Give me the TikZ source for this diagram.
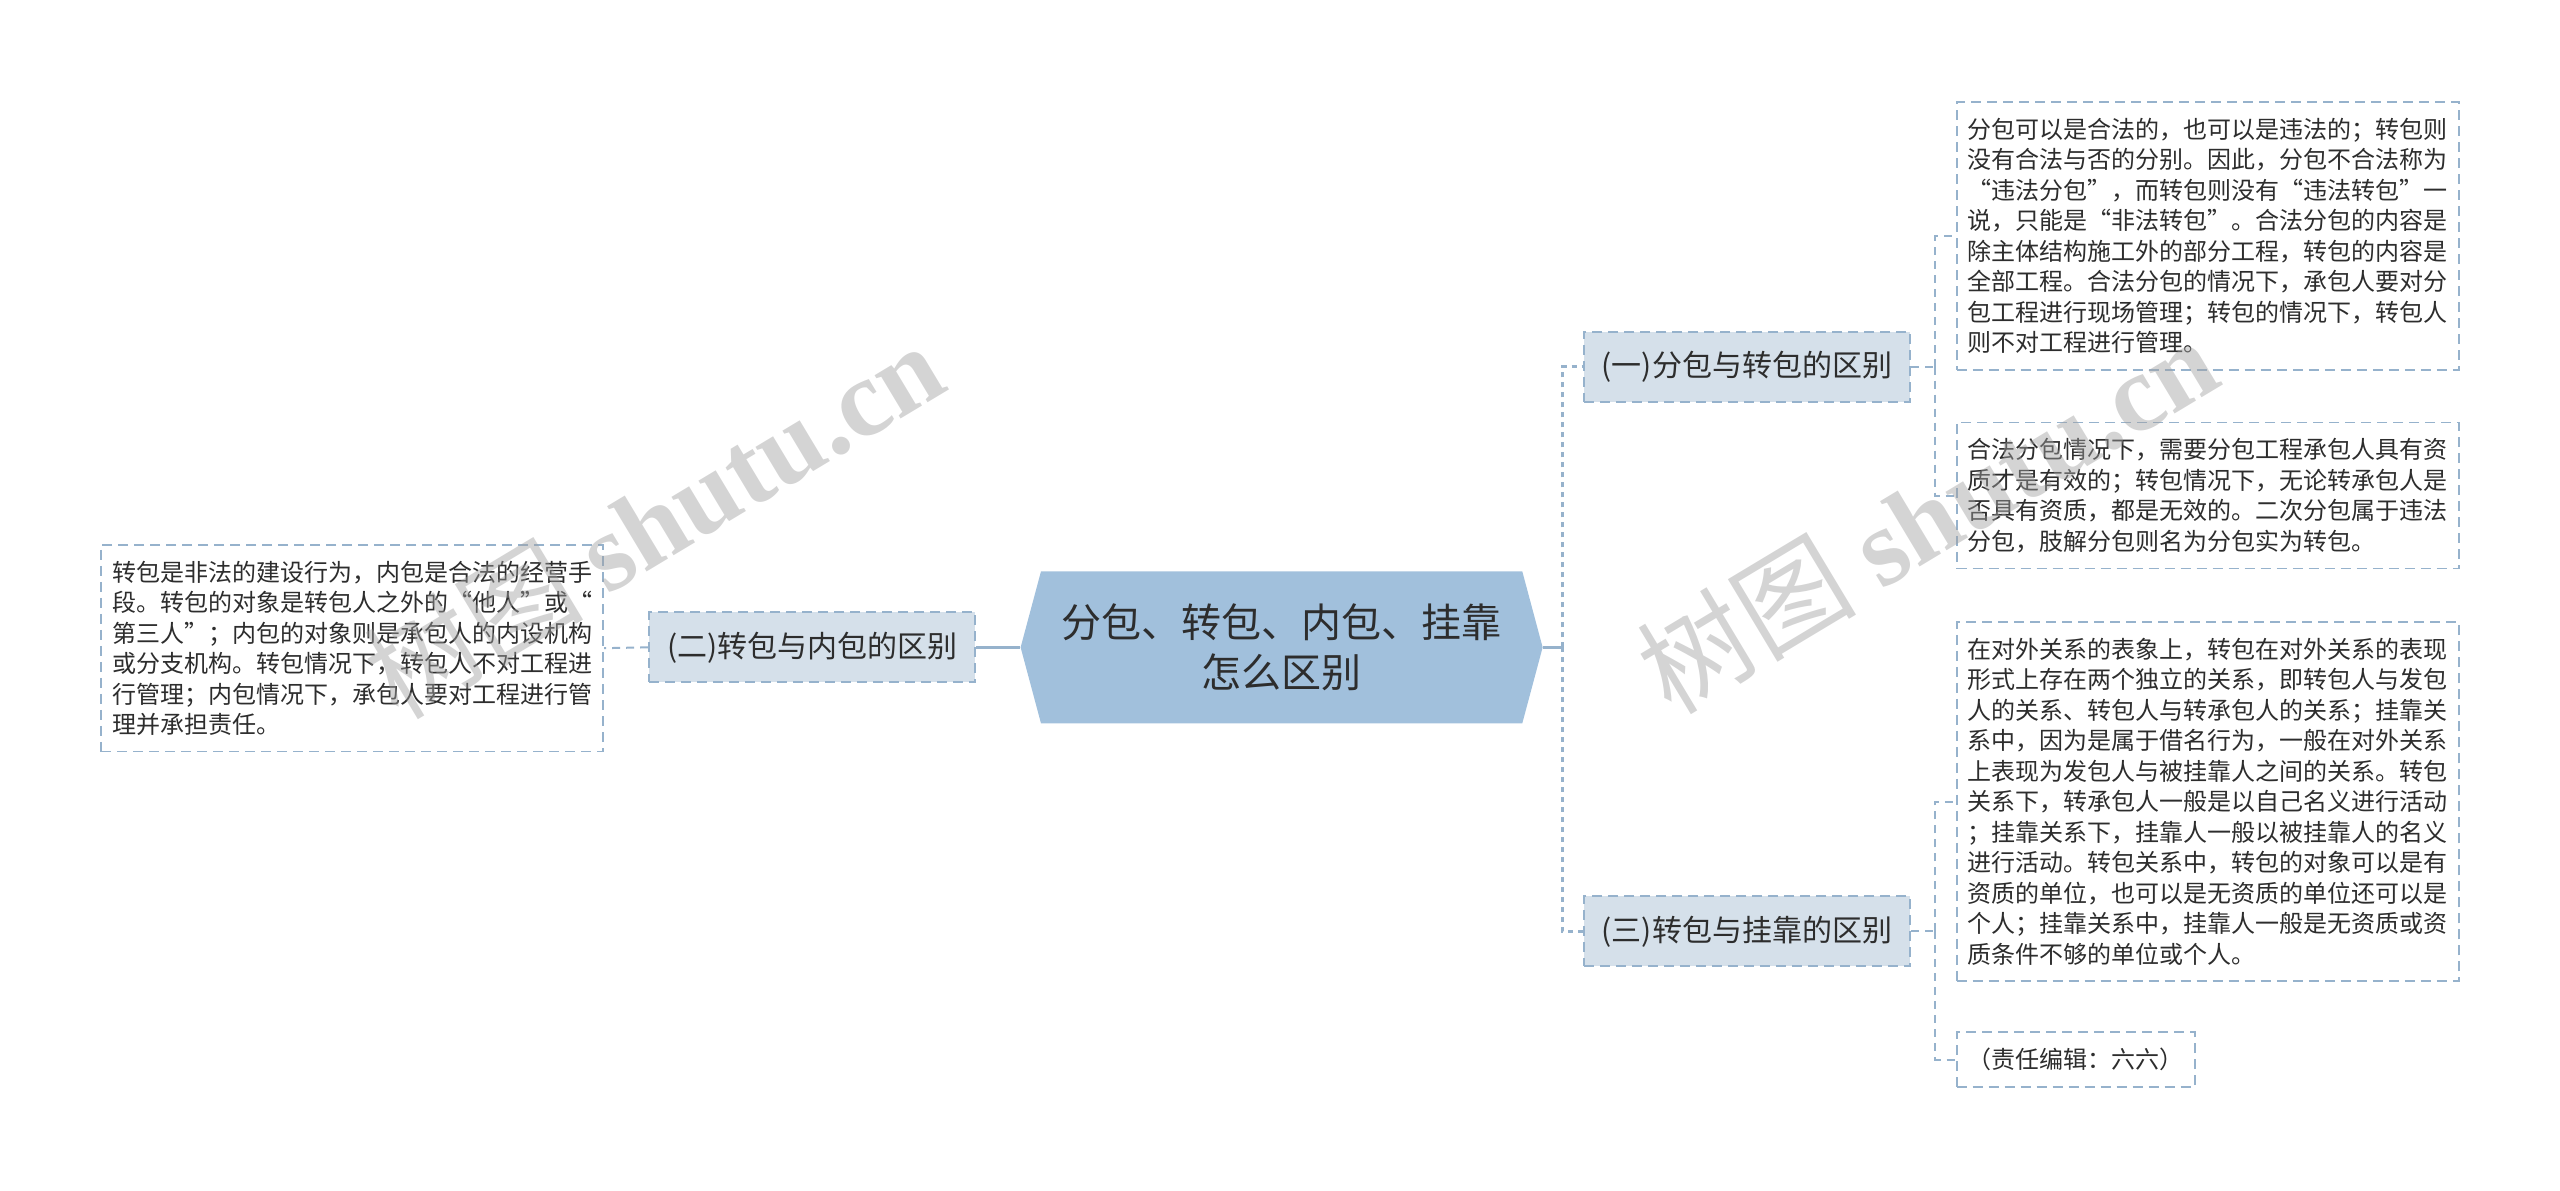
\documentclass[tikz,border=0pt]{standalone}
\usepackage{fontspec}
\setmainfont{Noto Sans CJK SC}
\newfontfamily\wmlatin{Liberation Serif}
\usetikzlibrary{shapes.symbols}
\definecolor{rootblue}{RGB}{161,192,220}
\definecolor{topicblue}{RGB}{213,224,234}
\definecolor{linkblue}{RGB}{150,178,204}
\definecolor{ink}{RGB}{45,45,45}
\definecolor{wmgray}{RGB}{160,160,160}
\begin{document}
\begin{tikzpicture}[
        x=0.8163pt, y=-0.8163pt,
        root/.style={signal, signal to=west and east, signal pointer angle=150,
            fill=rootblue, text=ink, minimum width=261pt, minimum height=76pt,
            inner sep=0pt, align=center, font=\fontsize{20pt}{25pt}\selectfont},
        topic/.style={draw=linkblue, line width=1pt, dash pattern=on 5pt off 3pt,
            fill=topicblue, text=ink, minimum height=35pt, inner xsep=9pt,
            font=\fontsize{15pt}{18pt}\selectfont},
        leaf/.style={draw=linkblue, line width=0.8pt, dash pattern=on 5pt off 3pt,
            fill=white, text=ink, text width=#1, align=left, inner xsep=5.5pt,
            inner ysep=8pt, font=\fontsize{12pt}{15.25pt}\selectfont},
        leaf/.default=240pt,
        link/.style={draw=linkblue, line width=1.5pt},
        dlink/.style={draw=linkblue, line width=1pt, dash pattern=on 4pt off 3pt},
        watermark/.style={text=wmgray, text opacity=0.45, rotate=31,
            font=\fontsize{55pt}{60pt}\selectfont}
    ]
        \useasboundingbox (0, 0) rectangle (1568, 729);
        % centre and the three topics
        \node[root] (main) at (785, 396.5) {分包、转包、内包、挂靠\\怎么区别};
        \node[topic] (b1) at (1070, 224.5) {(一)分包与转包的区别};
        \node[topic] (b2) at (497.5, 396.5) {(二)转包与内包的区别};
        \node[topic] (b3) at (1070, 570.5) {(三)转包与挂靠的区别};
        % leaves
        \node[leaf, anchor=west] (l1) at (1198, 144.5) {分包可以是合法的，也可以是违法的；转包则\\没有合法与否的分别。因此，分包不合法称为\\“违法分包”，而转包则没有“违法转包”一\\说，只能是“非法转包”。合法分包的内容是\\除主体结构施工外的部分工程，转包的内容是\\全部工程。合法分包的情况下，承包人要对分\\包工程进行现场管理；转包的情况下，转包人\\则不对工程进行管理。};
        \node[leaf, anchor=west] (l2) at (1198, 303.5) {合法分包情况下，需要分包工程承包人具有资\\质才是有效的；转包情况下，无论转承包人是\\否具有资质，都是无效的。二次分包属于违法\\分包，肢解分包则名为分包实为转包。};
        \node[leaf, anchor=west] (l3) at (1198, 491) {在对外关系的表象上，转包在对外关系的表现\\形式上存在两个独立的关系，即转包人与发包\\人的关系、转包人与转承包人的关系；挂靠关\\系中，因为是属于借名行为，一般在对外关系\\上表现为发包人与被挂靠人之间的关系。转包\\关系下，转承包人一般是以自己名义进行活动\\；挂靠关系下，挂靠人一般以被挂靠人的名义\\进行活动。转包关系中，转包的对象可以是有\\资质的单位，也可以是无资质的单位还可以是\\个人；挂靠关系中，挂靠人一般是无资质或资\\质条件不够的单位或个人。};
        \node[leaf=108pt, anchor=west] (l4) at (1198, 649) {（责任编辑：六六）};
        \node[leaf, anchor=east] (l5) at (370, 397) {转包是非法的建设行为，内包是合法的经营手\\段。转包的对象是转包人之外的“他人”或“\\第三人”；内包的对象则是承包人的内设机构\\或分支机构。转包情况下，转包人不对工程进\\行管理；内包情况下，承包人要对工程进行管\\理并承担责任。};
        % joints
        \coordinate (jr) at (957, 396.5);
        \coordinate (j1) at (1185, 224.5);
        \coordinate (j3) at (1185, 570.5);
        % connectors
        \draw[link] (main.west) -- (b2.east);
        \draw[dlink] (b2.west) -- (l5.east);
        \draw[link] (main.east) -- (jr);
        \draw[dlink, line width=1.3pt, dash pattern=on 2.5pt off 2.5pt] (jr) |- (b1.west);
        \draw[dlink, line width=1.3pt, dash pattern=on 2.5pt off 2.5pt] (jr) |- (b3.west);
        \draw[dlink] (b1.east) -- (j1);
        \draw[dlink] (j1) |- (l1.west);
        \draw[dlink] (j1) |- (l2.west);
        \draw[dlink] (b3.east) -- (j3);
        \draw[dlink] (j3) |- (l3.west);
        \draw[dlink] (j3) |- (l4.west);
        % watermarks
        \node[watermark] (wm1) at (400, 318) {树图 {\wmlatin\bfseries shutu.cn}};
        \node[watermark] (wm2) at (1180, 315) {树图 {\wmlatin\bfseries shutu.cn}};
    \end{tikzpicture}
\end{document}
